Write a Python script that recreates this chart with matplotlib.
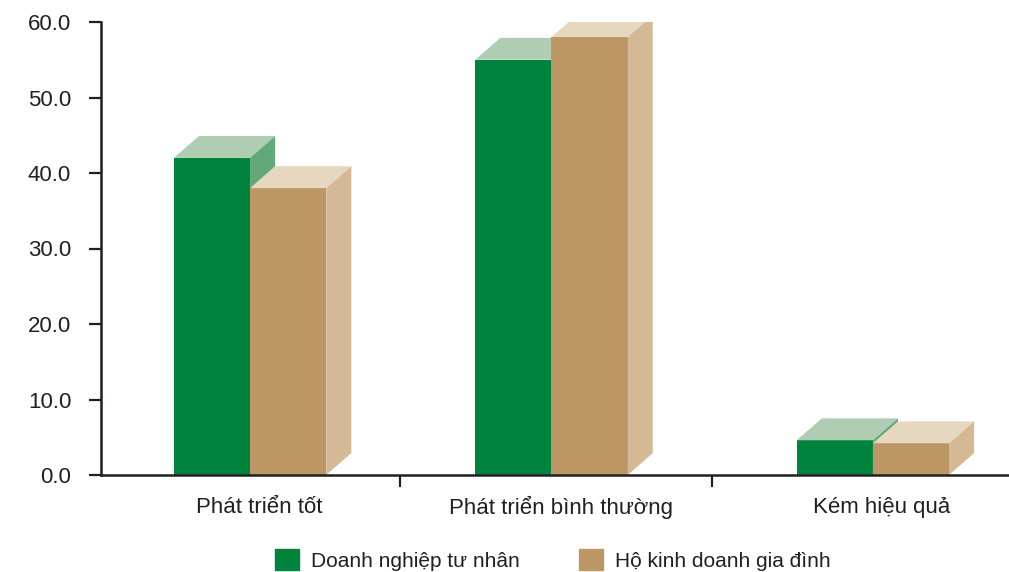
import matplotlib
matplotlib.use("Agg")
import matplotlib.pyplot as plt
from matplotlib.patches import Patch

plt.rcParams["font.family"] = ["Liberation Sans", "DejaVu Sans"]

categories = ["Phát triển tốt", "Phát triển bình thường", "Kém hiệu quả"]
series_names = ["Doanh nghiệp tư nhân", "Hộ kinh doanh gia đình"]
private_firms = [42.0, 55.0, 4.6]
household = [38.0, 58.0, 4.2]
yticks = [0, 10, 20, 30, 40, 50, 60]

# layout of the pseudo-3D bars (data units)
GROUP_X = [-0.007, 0.99, 2.053]
BOUNDS = [0.49, 1.52]
BAR_W = 0.252
DX, DY = 0.083, 2.9

COLORS = {
    "green": ("#00843d", "#aecdb2", "#62a878"),
    "tan": ("#bc9664", "#e5d7c0", "#d5b995"),
}
TEXT = "#231f20"


def box(ax, x0, h, cols):
    front, top, side = cols
    x1 = x0 + BAR_W
    ax.fill([x0, x1, x1, x0], [0, 0, h, h], color=front, lw=0, zorder=3)
    ax.fill([x0, x1, x1 + DX, x0 + DX], [h, h, h + DY, h + DY],
            color=top, lw=0, zorder=3)
    ax.fill([x1, x1 + DX, x1 + DX, x1], [0, DY, h + DY, h],
            color=side, lw=0, zorder=3)


fig = plt.figure(figsize=(10.09, 5.72), dpi=100)
ax = fig.add_axes([101 / 1009, 97 / 572, 907 / 1009, 453 / 572])

for gx, a, b in zip(GROUP_X, private_firms, household):
    box(ax, gx - BAR_W, a, COLORS["green"])
    box(ax, gx, b, COLORS["tan"])

ax.set_xlim(-0.5, 2.5)
ax.set_ylim(0, 60)
ax.set_yticks(yticks)
ax.set_yticklabels([f"{v:.1f}" for v in yticks])
ax.set_xticks(BOUNDS)
ax.set_xticklabels([])
ax.tick_params(axis="both", length=8.5, width=1.6, color=TEXT,
               labelsize=16, labelcolor=TEXT)
ax.tick_params(axis="y", pad=13)
for s in ("top", "right"):
    ax.spines[s].set_visible(False)
for s in ("left", "bottom"):
    ax.spines[s].set_linewidth(1.8)
    ax.spines[s].set_color(TEXT)
    ax.spines[s].set_zorder(4)

for gx, name in zip(GROUP_X, categories):
    ax.text(gx + 0.03, -4.3, name, ha="center", va="center",
            fontsize=16, color=TEXT)

handles = [Patch(color=COLORS["green"][0]), Patch(color=COLORS["tan"][0])]
fig.legend(handles, series_names, loc="center", ncol=2,
           bbox_to_anchor=(553 / 1009, 12 / 572), frameon=False,
           fontsize=15, handlelength=1.15, handleheight=1.15,
           handletextpad=0.58, columnspacing=2.84, labelcolor=TEXT)

fig.savefig("out.png", dpi=100)
